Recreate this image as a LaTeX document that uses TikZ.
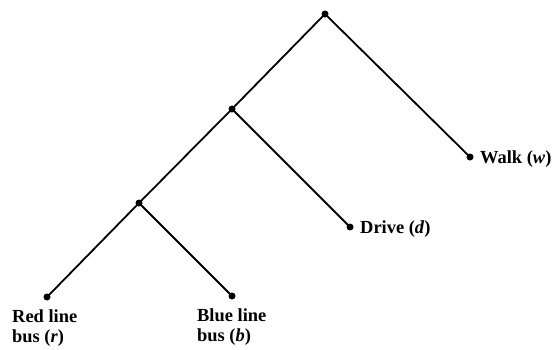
\documentclass[tikz,border=0pt]{standalone}
\usepackage{fontspec}
\setmainfont{Liberation Serif}
\begin{document}
\begin{tikzpicture}[x=1bp,y=-1bp,
  choice/.style={circle,fill=black,inner sep=0pt,minimum size=7bp},
  branch/.style={line width=1.8bp,line cap=round},
  lbl/.style={inner sep=0pt,font=\fontsize{18.5}{20}\selectfont\bfseries,align=left}]
  \useasboundingbox (0,0) rectangle (558,349);
  % branching points of the nested choice tree
  \node[choice] (top) at (325,14) {};
  \node[choice] (upper) at (232,109) {};
  \node[choice] (lower) at (139,203) {};
  % terminal alternatives
  \node[choice] (walk) at (470,157) {};
  \node[choice] (drive) at (350,227) {};
  \node[choice] (red) at (47,297) {};
  \node[choice] (blue) at (232,296) {};
  % branches
  \draw[branch] (top.center) -- (upper.center);
  \draw[branch] (top.center) -- (walk.center);
  \draw[branch] (upper.center) -- (lower.center);
  \draw[branch] (upper.center) -- (drive.center);
  \draw[branch] (lower.center) -- (red.center);
  \draw[branch] (lower.center) -- (blue.center);
  % labels (base anchor of a two-line label is its last line)
  \node[lbl,anchor=base west] (walkl) at (480,163) {Walk (\textit{w})};
  \node[lbl,anchor=base west] (drivel) at (360,233) {Drive (\textit{d})};
  \node[lbl,anchor=base west] (redl) at (12,342) {Red line\\bus (\textit{r})};
  \node[lbl,anchor=base west] (bluel) at (197,341) {Blue line\\bus (\textit{b})};
\end{tikzpicture}
\end{document}
